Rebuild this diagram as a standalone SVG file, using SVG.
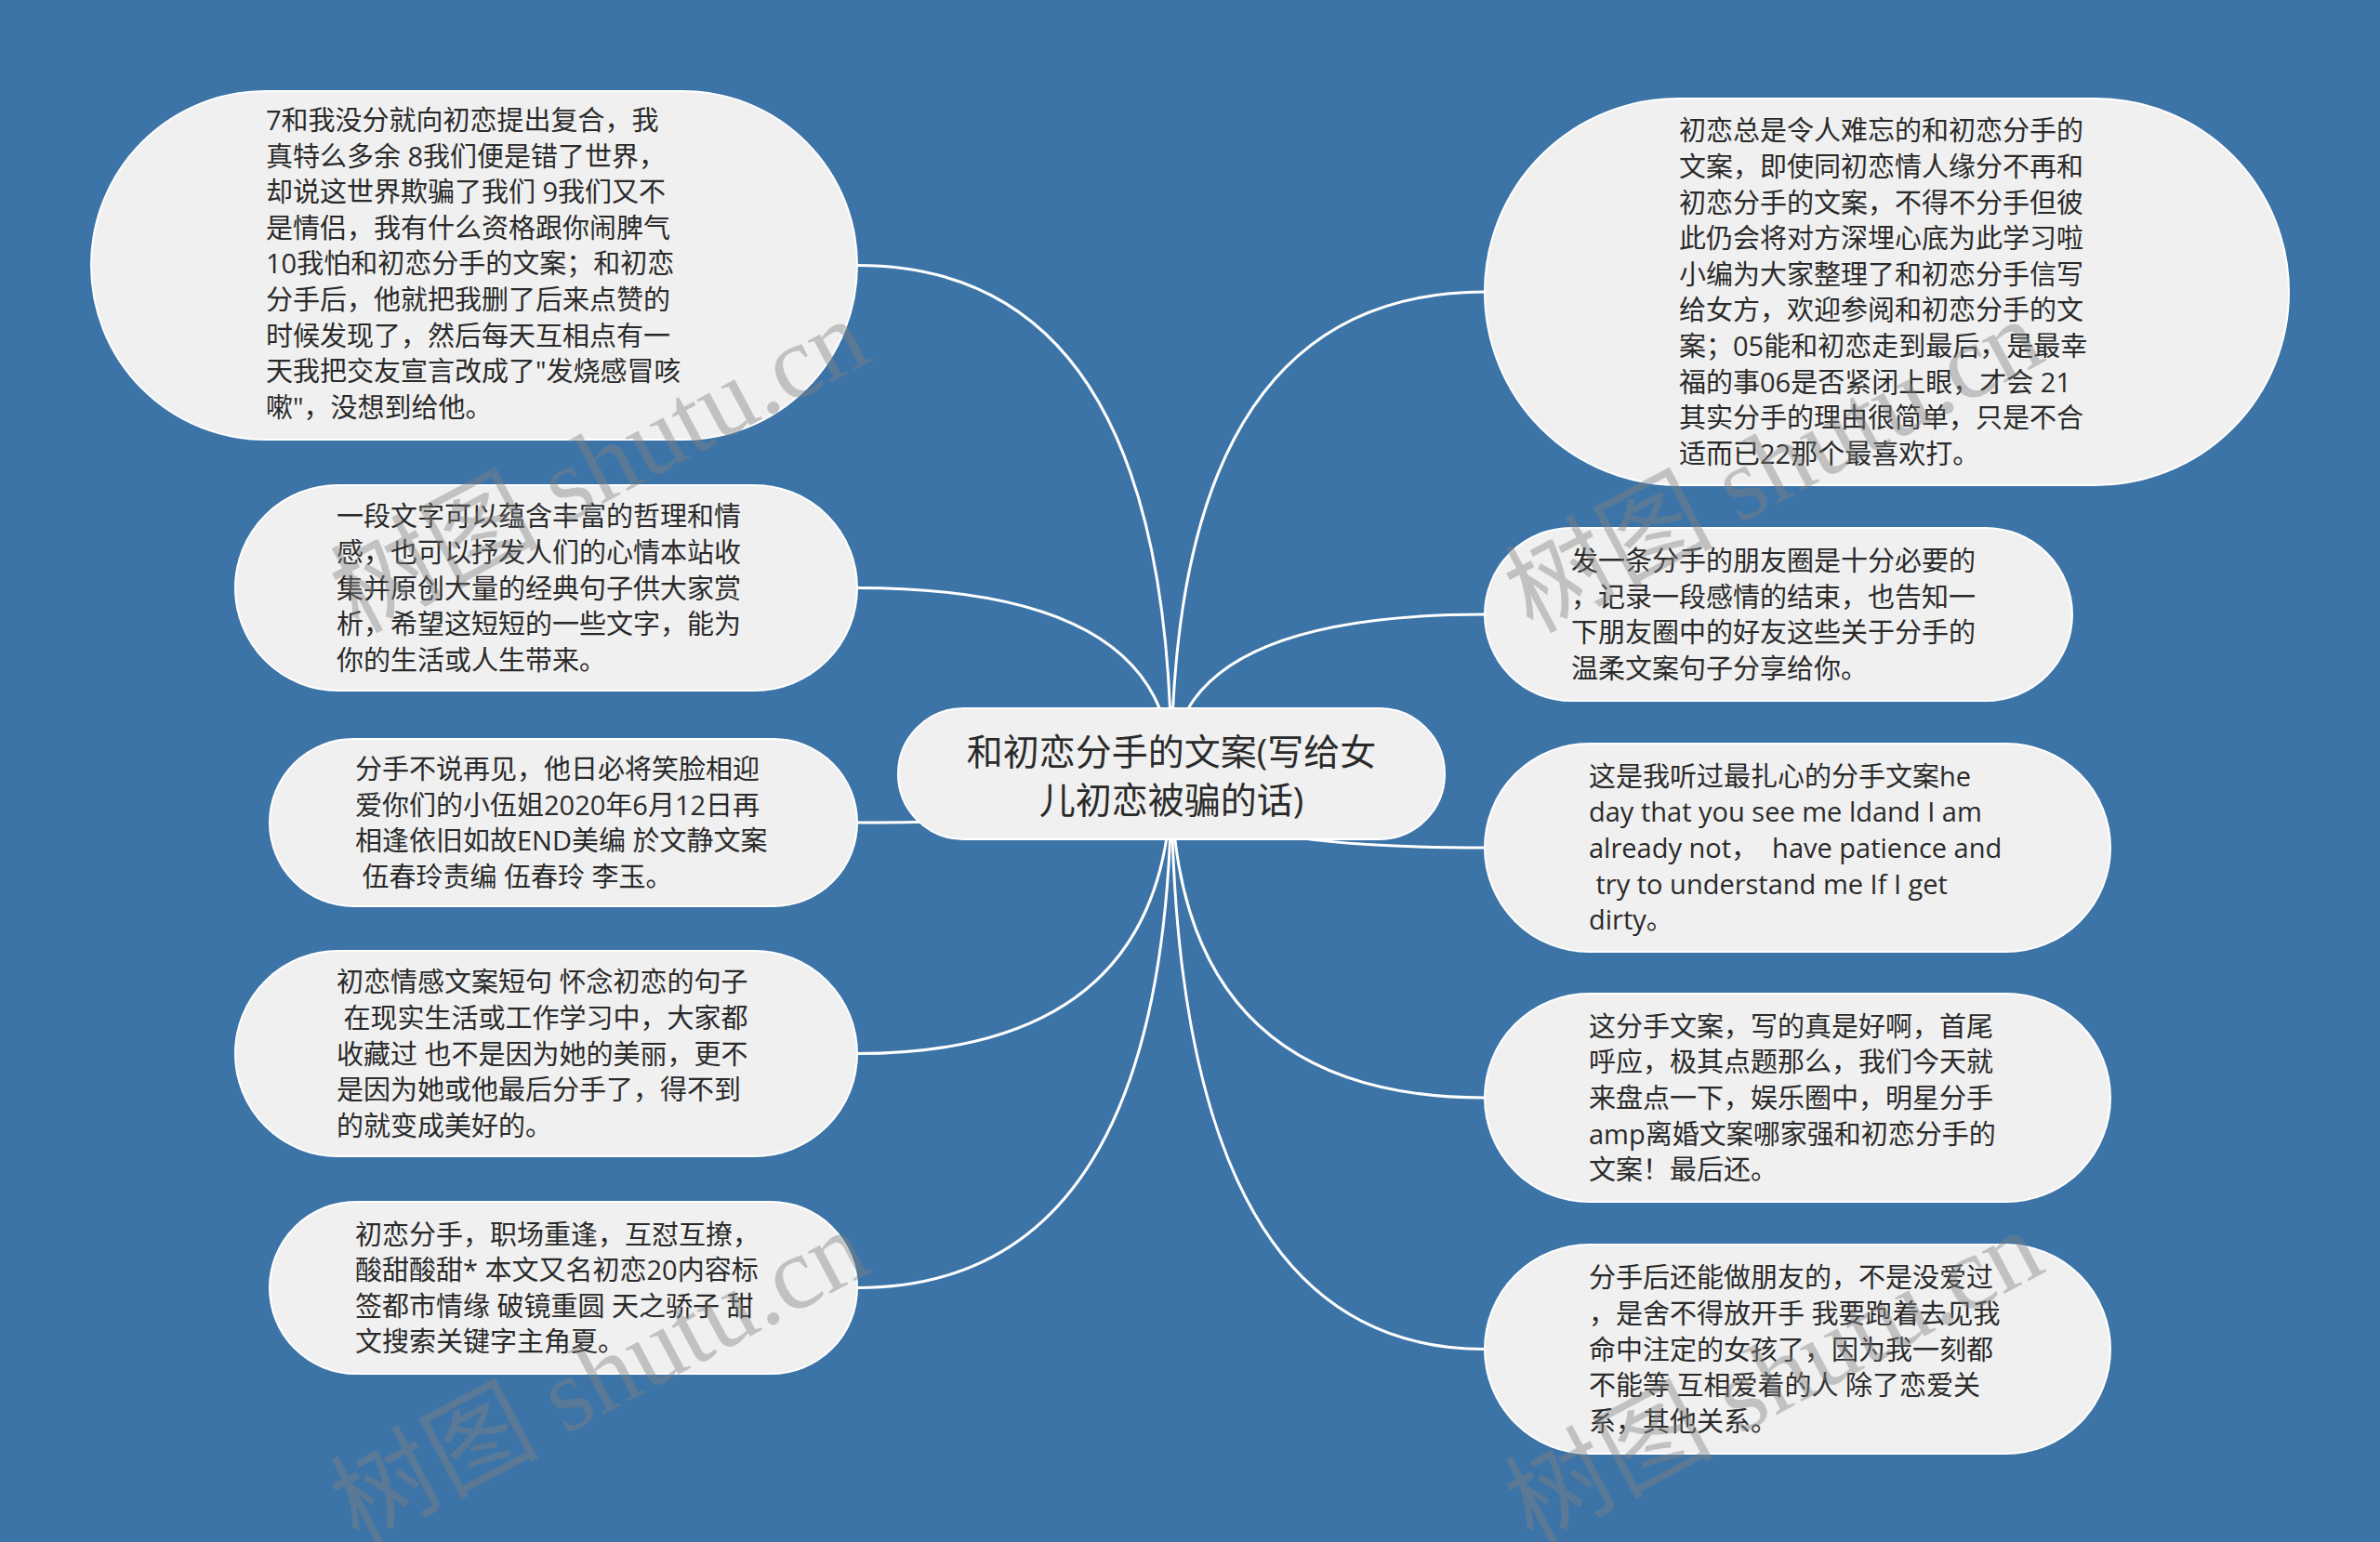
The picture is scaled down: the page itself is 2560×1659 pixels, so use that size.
<svg xmlns="http://www.w3.org/2000/svg" width="2560" height="1659" viewBox="0 0 2560 1659">
<style>
.bg{fill:#3d74a7}
.node{fill:#f0f0f0;stroke:#ffffff;stroke-width:2}
.t{font-family:"Open Sans","Noto Sans CJK SC",sans-serif;font-size:29px;fill:#2a2a2a}
.ct{font-family:"Open Sans","Noto Sans CJK SC",sans-serif;font-size:39px;fill:#2a2a2a;text-anchor:middle}
.edge{fill:none;stroke:#ffffff;stroke-width:3}
.wm{font-family:"Liberation Serif","Noto Sans CJK SC",serif;font-size:112px;fill:#808080;fill-opacity:0.42}
</style>
<rect class="bg" x="0" y="0" width="2560" height="1659"/>
<g id="connectors">
<path class="edge" d="M1260 832 Q1260 285.5 922 285.5"/>
<path class="edge" d="M1260 832 Q1260 632.5 922 632.5"/>
<path class="edge" d="M1260 832 Q1260 885 922 885"/>
<path class="edge" d="M1260 832 Q1260 1133.5 922 1133.5"/>
<path class="edge" d="M1260 832 Q1260 1385.5 922 1385.5"/>
<path class="edge" d="M1260 832 Q1260 314 1597 314"/>
<path class="edge" d="M1260 832 Q1260 661 1597 661"/>
<path class="edge" d="M1260 832 Q1260 912 1597 912"/>
<path class="edge" d="M1260 832 Q1260 1181 1597 1181"/>
<path class="edge" d="M1260 832 Q1260 1451.5 1597 1451.5"/>
</g>
<g id="center">
<rect class="node" x="966" y="762" width="588" height="141" rx="70.5" ry="70.5"/>
<text class="ct"><tspan x="1260" y="823">和初恋分手的文案(写给女</tspan><tspan x="1260" y="875">儿初恋被骗的话)</tspan></text>
</g>
<g id="L1">
<rect class="node" x="98" y="98" width="824" height="375" rx="187.5" ry="187.5"/>
<text class="t">
<tspan x="286" y="140">7和我没分就向初恋提出复合，我</tspan>
<tspan x="286" y="178.6">真特么多余 8我们便是错了世界，</tspan>
<tspan x="286" y="217.2">却说这世界欺骗了我们 9我们又不</tspan>
<tspan x="286" y="255.8">是情侣，我有什么资格跟你闹脾气</tspan>
<tspan x="286" y="294.4">10我怕和初恋分手的文案；和初恋</tspan>
<tspan x="286" y="333">分手后，他就把我删了后来点赞的</tspan>
<tspan x="286" y="371.6">时候发现了，然后每天互相点有一</tspan>
<tspan x="286" y="410.2">天我把交友宣言改成了"发烧感冒咳</tspan>
<tspan x="286" y="448.8">嗽"，没想到给他。</tspan>
</text>
</g>
<g id="L2">
<rect class="node" x="253" y="522" width="669" height="221" rx="110.5" ry="110.5"/>
<text class="t">
<tspan x="362" y="566.3">一段文字可以蕴含丰富的哲理和情</tspan>
<tspan x="362" y="604.9">感，也可以抒发人们的心情本站收</tspan>
<tspan x="362" y="643.5">集并原创大量的经典句子供大家赏</tspan>
<tspan x="362" y="682.1">析，希望这短短的一些文字，能为</tspan>
<tspan x="362" y="720.7">你的生活或人生带来。</tspan>
</text>
</g>
<g id="L3">
<rect class="node" x="290" y="795" width="632" height="180" rx="90" ry="90"/>
<text class="t">
<tspan x="382" y="838.1">分手不说再见，他日必将笑脸相迎</tspan>
<tspan x="382" y="876.7">爱你们的小伍姐2020年6月12日再</tspan>
<tspan x="382" y="915.3">相逢依旧如故END美编 於文静文案</tspan>
<tspan x="382" y="953.9" xml:space="preserve"> 伍春玲责编 伍春玲 李玉。</tspan>
</text>
</g>
<g id="L4">
<rect class="node" x="253" y="1023" width="669" height="221" rx="110.5" ry="110.5"/>
<text class="t">
<tspan x="362" y="1067.3">初恋情感文案短句 怀念初恋的句子</tspan>
<tspan x="362" y="1105.9" xml:space="preserve"> 在现实生活或工作学习中，大家都</tspan>
<tspan x="362" y="1144.5">收藏过 也不是因为她的美丽，更不</tspan>
<tspan x="362" y="1183.1">是因为她或他最后分手了，得不到</tspan>
<tspan x="362" y="1221.7">的就变成美好的。</tspan>
</text>
</g>
<g id="L5">
<rect class="node" x="290" y="1293" width="632" height="185" rx="92.5" ry="92.5"/>
<text class="t">
<tspan x="382" y="1338.6">初恋分手，职场重逢，互怼互撩，</tspan>
<tspan x="382" y="1377.2">酸甜酸甜* 本文又名初恋20内容标</tspan>
<tspan x="382" y="1415.8">签都市情缘 破镜重圆 天之骄子 甜</tspan>
<tspan x="382" y="1454.4">文搜索关键字主角夏。</tspan>
</text>
</g>
<g id="R1">
<rect class="node" x="1597" y="106" width="865" height="416" rx="208" ry="208"/>
<text class="t">
<tspan x="1806" y="151.3">初恋总是令人难忘的和初恋分手的</tspan>
<tspan x="1806" y="189.9">文案，即使同初恋情人缘分不再和</tspan>
<tspan x="1806" y="228.5">初恋分手的文案，不得不分手但彼</tspan>
<tspan x="1806" y="267.1">此仍会将对方深埋心底为此学习啦</tspan>
<tspan x="1806" y="305.7">小编为大家整理了和初恋分手信写</tspan>
<tspan x="1806" y="344.3">给女方，欢迎参阅和初恋分手的文</tspan>
<tspan x="1806" y="382.9">案；05能和初恋走到最后，是最幸</tspan>
<tspan x="1806" y="421.5">福的事06是否紧闭上眼，才会 21</tspan>
<tspan x="1806" y="460.1">其实分手的理由很简单，只是不合</tspan>
<tspan x="1806" y="498.7">适而已22那个最喜欢打。</tspan>
</text>
</g>
<g id="R2">
<rect class="node" x="1597" y="568" width="632" height="186" rx="93" ry="93"/>
<text class="t">
<tspan x="1690" y="614.1">发一条分手的朋友圈是十分必要的</tspan>
<tspan x="1690" y="652.7">，记录一段感情的结束，也告知一</tspan>
<tspan x="1690" y="691.3">下朋友圈中的好友这些关于分手的</tspan>
<tspan x="1690" y="729.9">温柔文案句子分享给你。</tspan>
</text>
</g>
<g id="R3">
<rect class="node" x="1597" y="800" width="673" height="224" rx="112" ry="112"/>
<text class="t">
<tspan x="1709" y="845.8">这是我听过最扎心的分手文案he</tspan>
<tspan x="1709" y="884.4">day that you see me ldand I am</tspan>
<tspan x="1709" y="923" xml:space="preserve">already not，  have patience and</tspan>
<tspan x="1709" y="961.6" xml:space="preserve"> try to understand me If I get</tspan>
<tspan x="1709" y="1000.2">dirty。</tspan>
</text>
</g>
<g id="R4">
<rect class="node" x="1597" y="1069" width="673" height="224" rx="112" ry="112"/>
<text class="t">
<tspan x="1709" y="1114.8">这分手文案，写的真是好啊，首尾</tspan>
<tspan x="1709" y="1153.4">呼应，极其点题那么，我们今天就</tspan>
<tspan x="1709" y="1192">来盘点一下，娱乐圈中，明星分手</tspan>
<tspan x="1709" y="1230.6">amp离婚文案哪家强和初恋分手的</tspan>
<tspan x="1709" y="1269.2">文案！最后还。</tspan>
</text>
</g>
<g id="R5">
<rect class="node" x="1597" y="1339" width="673" height="225" rx="112.5" ry="112.5"/>
<text class="t">
<tspan x="1709" y="1385.3">分手后还能做朋友的，不是没爱过</tspan>
<tspan x="1709" y="1423.9">，是舍不得放开手 我要跑着去见我</tspan>
<tspan x="1709" y="1462.5">命中注定的女孩了，因为我一刻都</tspan>
<tspan x="1709" y="1501.1">不能等 互相爱着的人 除了恋爱关</tspan>
<tspan x="1709" y="1539.7">系，其他关系。</tspan>
</text>
</g>
<g id="watermarks">
<text class="wm" x="385" y="682" transform="rotate(-28 385 682)">树图 shutu.cn</text>
<text class="wm" x="385" y="1662" transform="rotate(-28 385 1662)">树图 shutu.cn</text>
<text class="wm" x="1648" y="682" transform="rotate(-28 1648 682)">树图 shutu.cn</text>
<text class="wm" x="1648" y="1662" transform="rotate(-28 1648 1662)">树图 shutu.cn</text>
</g>
</svg>
